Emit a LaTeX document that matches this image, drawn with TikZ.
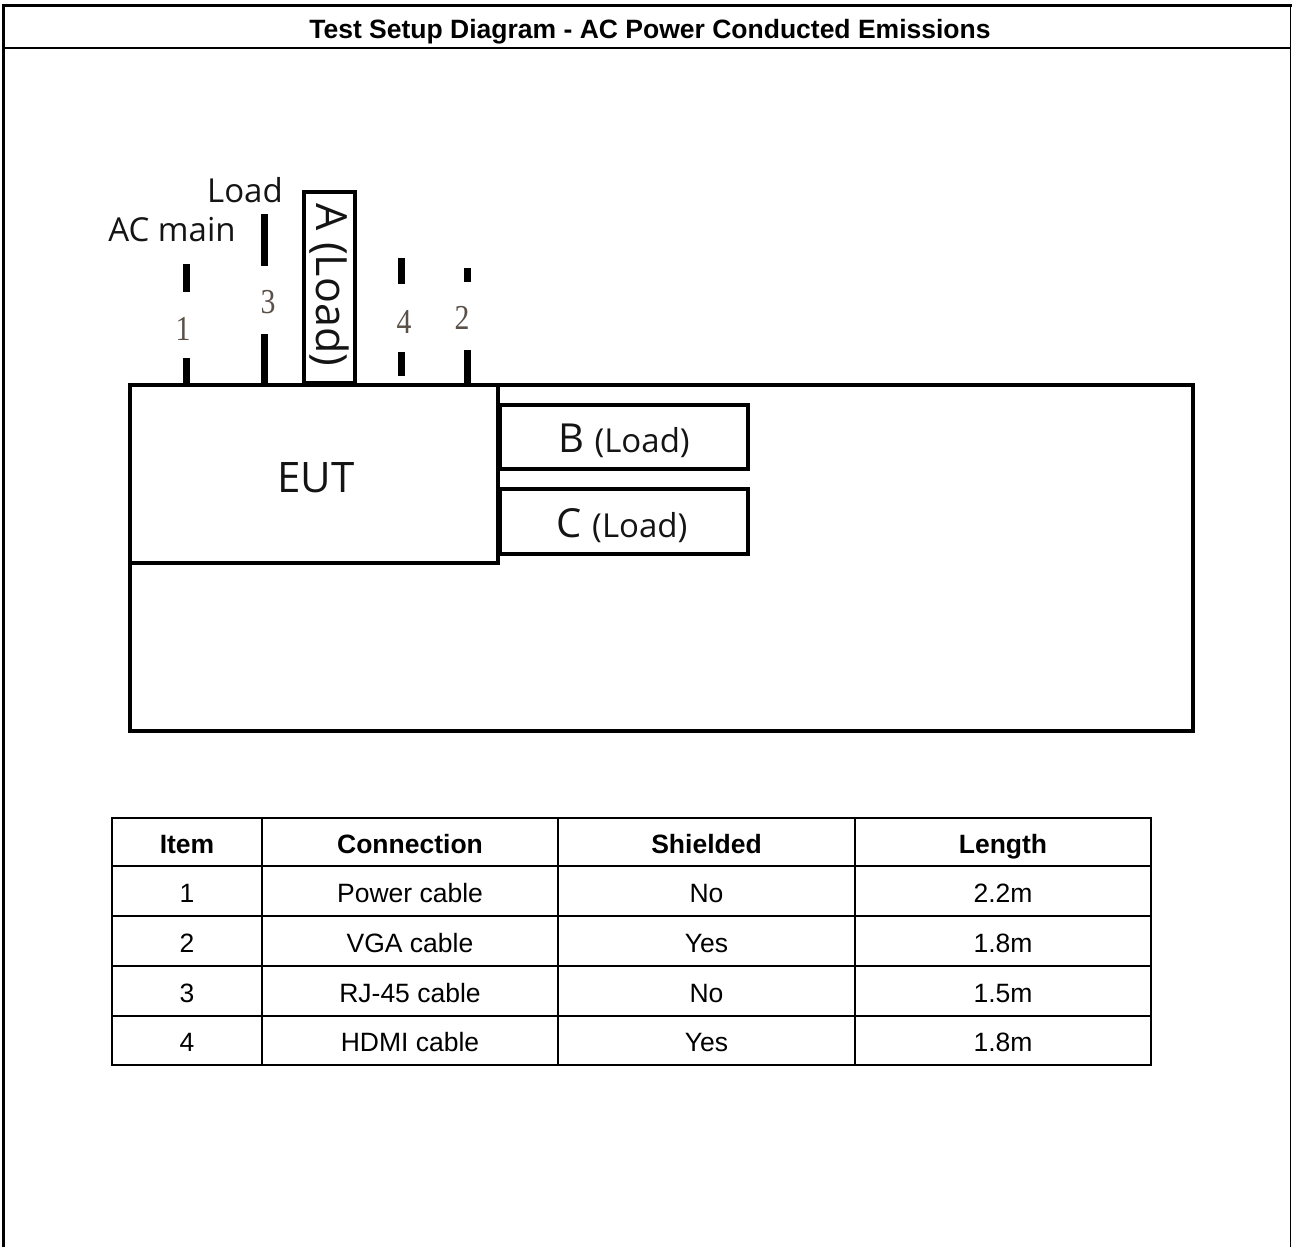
\documentclass[tikz,border=0pt]{standalone}
\usepackage{fontspec}
\setmainfont{Liberation Sans}
\newfontfamily\osfont{Open Sans}
\newfontfamily\serfont{Liberation Serif}
\definecolor{digitgray}{HTML}{5A5048}
\definecolor{labelgray}{HTML}{141414}
\tikzset{
  heavy/.style={line width=4.5pt, line join=miter},
  cabledash/.style={line width=7pt, line cap=butt},
  digit/.style={text=digitgray, font=\serfont\fontsize{35}{35}\selectfont, inner sep=0pt, xscale=0.85},
  lbl/.style={text=labelgray, font=\osfont\fontsize{33}{33}\selectfont, inner sep=0pt, anchor=base},
  cell/.style={font=\fontsize{26.5}{26.5}\selectfont, inner sep=0pt, anchor=base},
  headcell/.style={font=\bfseries\fontsize{26.5}{26.5}\selectfont, inner sep=0pt, anchor=base},
  tline/.style={line width=1.3pt},
}
\begin{document}
\begin{tikzpicture}[x=1pt,y=-1pt]
\useasboundingbox (0,0) rectangle (1292,1247);
% outer frame
\draw[line width=3pt] (3,1247) -- (3,6);
\draw[line width=3pt] (1.5,6) -- (1292,6);
\draw[line width=1.2pt] (1290.8,6) -- (1290.8,1247);
\draw[line width=2pt] (3,48) -- (1291,48);
\node[font=\bfseries\fontsize{26.5}{27}\selectfont, inner sep=0pt, anchor=base] (title) at (650,39) {Test Setup Diagram - AC Power Conducted Emissions};

% bench
\node[heavy, draw, minimum width=1063pt, minimum height=346pt, inner sep=0pt] (bench) at (661.5,558) {};
\node[heavy, draw, minimum width=368pt, minimum height=178pt, inner sep=0pt] (eut) at (314,474) {};
\node[text=labelgray, font=\osfont\fontsize{42}{42}\selectfont, inner sep=0pt, anchor=base] (euttxt) at (316,492) {EUT};
\node[heavy, draw, minimum width=248pt, minimum height=64pt, inner sep=0pt] (bbox) at (624,437) {};
\node[text=labelgray, inner sep=0pt, anchor=base] (btxt) at (624,452) {\osfont\fontsize{40}{40}\selectfont B \fontsize{33}{33}\selectfont(Load)};
\node[heavy, draw, minimum width=248pt, minimum height=65pt, inner sep=0pt] (cbox) at (624,521.5) {};
\node[text=labelgray, inner sep=0pt, anchor=base] (ctxt) at (622,537) {\osfont\fontsize{40}{40}\selectfont C \fontsize{33}{33}\selectfont(Load)};
% A load
\node[line width=4.5pt, draw, minimum width=51pt, minimum height=191pt, inner sep=0pt] (abox) at (329.5,287.5) {};
\node[text=labelgray, rotate=-90, font=\osfont\fontsize{43}{43}\selectfont, inner sep=0pt] (atxt) at (329,285) {A (Load)};

% cables
\coordinate (c1a) at (186,264); \coordinate (c1b) at (186,292);
\coordinate (c1c) at (186,358); \coordinate (c1d) at (186,383);
\draw[cabledash] (c1a) -- (c1b); \draw[cabledash] (c1c) -- (c1d);
\node[digit] (d1) at (183,329) {1};
\coordinate (c3a) at (264,214); \coordinate (c3b) at (264,266);
\coordinate (c3c) at (264,334); \coordinate (c3d) at (264,383);
\draw[cabledash] (c3a) -- (c3b); \draw[cabledash] (c3c) -- (c3d);
\node[digit] (d3) at (268,302) {3};
\coordinate (c4a) at (401,258); \coordinate (c4b) at (401,284);
\coordinate (c4c) at (401,352); \coordinate (c4d) at (401,376);
\draw[cabledash] (c4a) -- (c4b); \draw[cabledash] (c4c) -- (c4d);
\node[digit] (d4) at (404,322) {4};
\coordinate (c2a) at (467,268); \coordinate (c2b) at (467,282);
\coordinate (c2c) at (467,350); \coordinate (c2d) at (467,383);
\draw[cabledash] (c2a) -- (c2b); \draw[cabledash] (c2c) -- (c2d);
\node[digit] (d2) at (462,318) {2};
\node[lbl] (acmain) at (172,241) {AC main};
\node[lbl] (loadlbl) at (245,202) {Load};

% table
\draw[tline] (112,818) rectangle (1151,1065);
\foreach \y in {866,916,966,1016} \draw[tline] (112,\y) -- (1151,\y);
\foreach \x in {262,558,855} \draw[tline] (\x,818) -- (\x,1065);
\node[headcell] (h1) at (187,853) {Item};
\node[headcell] (h2) at (410,853) {Connection};
\node[headcell] (h3) at (706.5,853) {Shielded};
\node[headcell] (h4) at (1003,853) {Length};
\node[cell] (r11) at (187,902) {1};
\node[cell] (r12) at (410,902) {Power cable};
\node[cell] (r13) at (706.5,902) {No};
\node[cell] (r14) at (1003,902) {2.2m};
\node[cell] (r21) at (187,952) {2};
\node[cell] (r22) at (410,952) {VGA cable};
\node[cell] (r23) at (706.5,952) {Yes};
\node[cell] (r24) at (1003,952) {1.8m};
\node[cell] (r31) at (187,1002) {3};
\node[cell] (r32) at (410,1002) {RJ-45 cable};
\node[cell] (r33) at (706.5,1002) {No};
\node[cell] (r34) at (1003,1002) {1.5m};
\node[cell] (r41) at (187,1051) {4};
\node[cell] (r42) at (410,1051) {HDMI cable};
\node[cell] (r43) at (706.5,1051) {Yes};
\node[cell] (r44) at (1003,1051) {1.8m};
\end{tikzpicture}
\end{document}
